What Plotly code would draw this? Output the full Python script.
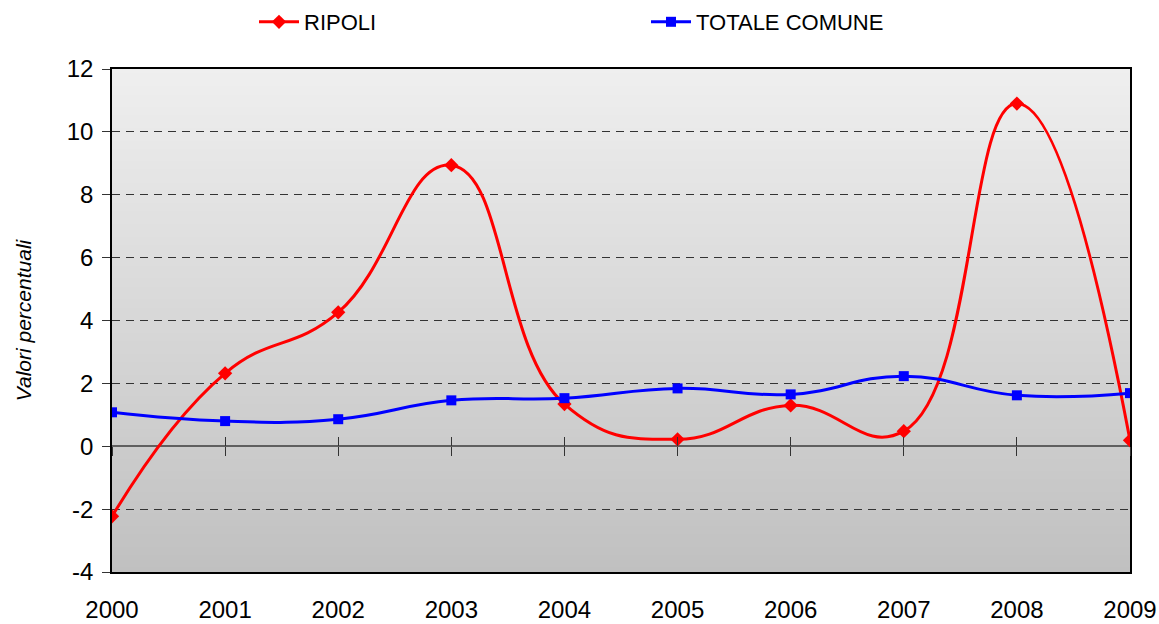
#!/usr/bin/env python3
"""Percent changes, RIPOLI vs TOTALE COMUNE, 2000-2009."""

import plotly.graph_objects as go

YEARS = [2000, 2001, 2002, 2003, 2004, 2005, 2006, 2007, 2008, 2009]
RIPOLI = [-2.23, 2.32, 4.26, 8.94, 1.34, 0.22, 1.30, 0.48, 10.90, 0.19]
TOTALE_COMUNE = [1.08, 0.80, 0.86, 1.46, 1.53, 1.84, 1.65, 2.23, 1.62, 1.69]
Y_TICKS = [-4, -2, 0, 2, 4, 6, 8, 10, 12]

X_RANGE = [YEARS[0], YEARS[-1]]
Y_RANGE = [Y_TICKS[0], Y_TICKS[-1]]

FONT = "Liberation Sans, Arial, sans-serif"
BG_TOP = (0xEF, 0xEF, 0xEF)
BG_BOTTOM = (0xC0, 0xC0, 0xC0)
N_BANDS = 120

FIG_W, FIG_H = 1159, 624

# drop the default 8px body margin so the figure fills the page exactly
NO_BODY_MARGIN = (
    "document.body.style.margin='0';"
    "document.documentElement.style.overflow='hidden';"
)


def gradient_bands():
    """Horizontal strips below the gridlines, faking Excel's gradient fill."""
    shapes = []
    for i in range(N_BANDS):
        t = (i + 0.5) / N_BANDS
        rgb = [round(b + (a - b) * t) for a, b in zip(BG_TOP, BG_BOTTOM)]
        shapes.append(
            dict(
                type="rect",
                xref="x domain",
                yref="y domain",
                x0=0,
                x1=1,
                y0=i / N_BANDS,
                y1=(i + 1) / N_BANDS + 0.002,
                fillcolor="rgb({},{},{})".format(*rgb),
                line=dict(width=0),
                layer="below",
            )
        )
    return shapes


fig = go.Figure()

fig.add_trace(
    go.Scatter(
        x=YEARS,
        y=RIPOLI,
        name="RIPOLI",
        mode="lines+markers",
        line=dict(color="#ff0000", width=3, shape="spline", smoothing=1.3),
        marker=dict(symbol="diamond", size=11, color="#ff0000"),
    )
)
fig.add_trace(
    go.Scatter(
        x=YEARS,
        y=TOTALE_COMUNE,
        name="TOTALE COMUNE",
        mode="lines+markers",
        line=dict(color="#0000ff", width=3, shape="spline", smoothing=1.3),
        marker=dict(symbol="square", size=10, color="#0000ff"),
    )
)

# zero axis with crossing ticks (two overlaid axes: one tick down, one up)
zero_pos = (0 - Y_RANGE[0]) / (Y_RANGE[1] - Y_RANGE[0])
for ax, side in (("x2", "outside"), ("x3", "inside")):
    fig.add_trace(
        go.Scatter(
            x=X_RANGE,
            y=[0, 0],
            xaxis=ax,
            yaxis="y",
            mode="lines",
            line=dict(width=0),
            hoverinfo="skip",
            showlegend=False,
        )
    )
    fig.update_layout(
        **{
            "xaxis" + ax[1:]: dict(
                overlaying="x",
                anchor="free",
                position=zero_pos,
                range=X_RANGE,
                tickvals=YEARS,
                showticklabels=False,
                ticks=side,
                ticklen=9,
                tickwidth=1,
                tickcolor="#333333",
                showline=False,
                showgrid=False,
                zeroline=False,
                automargin=False,
            )
        }
    )

fig.update_layout(
    width=FIG_W,
    height=FIG_H,
    paper_bgcolor="white",
    plot_bgcolor="white",
    margin=dict(l=112, r=FIG_W - 1130, t=69, b=FIG_H - 572),
    font=dict(family=FONT, size=24, color="black"),
    shapes=gradient_bands(),
    xaxis=dict(
        range=X_RANGE,
        tickvals=YEARS,
        ticktext=[str(y) for y in YEARS],
        ticks="",
        ticklabelstandoff=15,
        showline=True,
        linecolor="black",
        linewidth=1.5,
        mirror=True,
        showgrid=False,
        zeroline=False,
        automargin=False,
        tickfont=dict(size=24),
    ),
    yaxis=dict(
        range=Y_RANGE,
        tickvals=Y_TICKS,
        ticktext=[str(v) for v in Y_TICKS],
        ticks="outside",
        ticklen=8,
        tickcolor="#333333",
        ticklabelstandoff=4,
        showline=True,
        linecolor="black",
        linewidth=1.5,
        mirror=True,
        showgrid=True,
        gridcolor="#333333",
        griddash="8px,6px",
        gridwidth=1,
        zeroline=True,
        zerolinecolor="#606060",
        zerolinewidth=1.5,
        automargin=False,
        tickfont=dict(size=24),
        title=dict(
            text="<i>Valori percentuali</i>",
            font=dict(size=21),
            standoff=29,
        ),
    ),
    legend=dict(
        orientation="h",
        xref="container",
        yref="container",
        x=254 / FIG_W,
        y=1 - 22 / FIG_H,
        xanchor="left",
        yanchor="middle",
        entrywidth=337,
        itemwidth=40,
        font=dict(size=22),
        bgcolor="rgba(0,0,0,0)",
    ),
    showlegend=True,
)

fig.write_html(
    "out.html",
    post_script=NO_BODY_MARGIN,
    config={"displayModeBar": False},
)
